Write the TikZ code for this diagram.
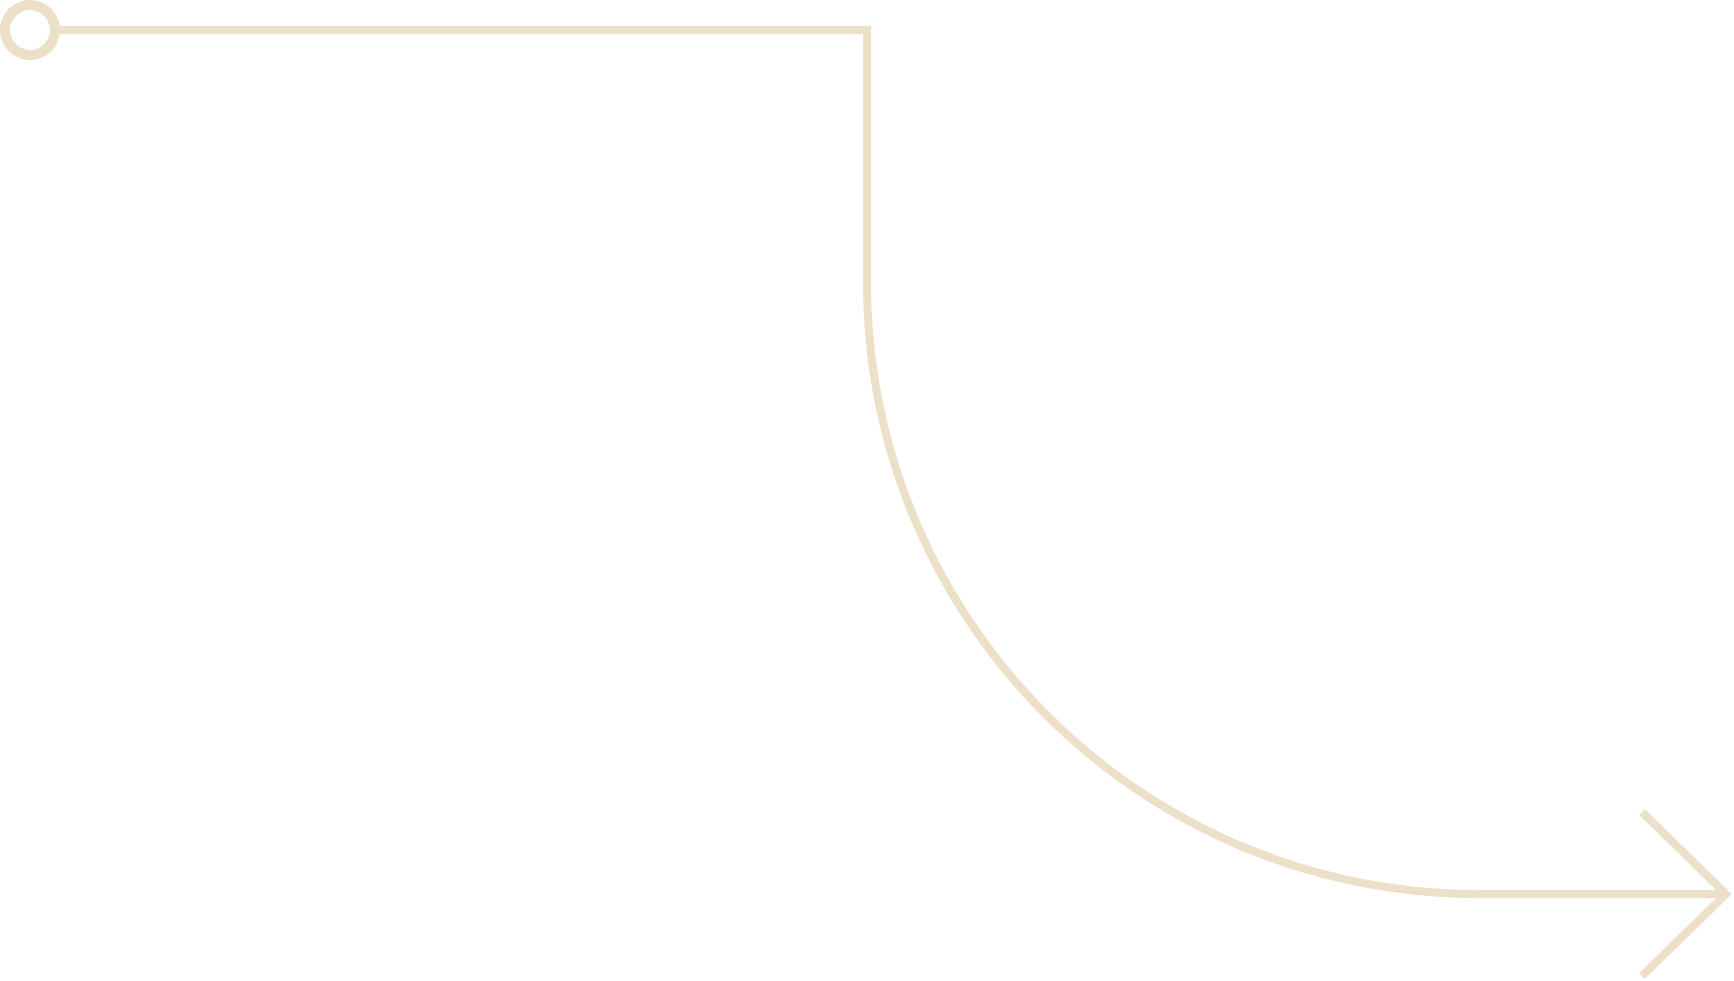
\documentclass[tikz,border=0pt]{standalone}
\usetikzlibrary{calc}
\definecolor{beige}{HTML}{EDE0C8}
\begin{document}
\begin{tikzpicture}[x=0.5pt,y=-0.5pt,
  conn/.style={draw=beige,line width=4pt,line join=miter},
  startdot/.style={circle,draw=beige,line width=5pt,fill=white,inner sep=0pt,minimum size=25pt}]
\useasboundingbox (0,0) rectangle (1734,980);
\node[startdot] (start) at (30,30) {};
\coordinate (corner) at (867,30);
\coordinate (bendtop) at (867,282);
\coordinate (tip) at (1726,894);
\draw[conn] (start.east) -- (corner) -- (bendtop) arc[start angle=180,end angle=90,radius=612] -- (tip);
\draw[conn] ($(tip)+(-84,-82)$) -- (tip) -- ($(tip)+(-84,82)$);
\end{tikzpicture}
\end{document}
